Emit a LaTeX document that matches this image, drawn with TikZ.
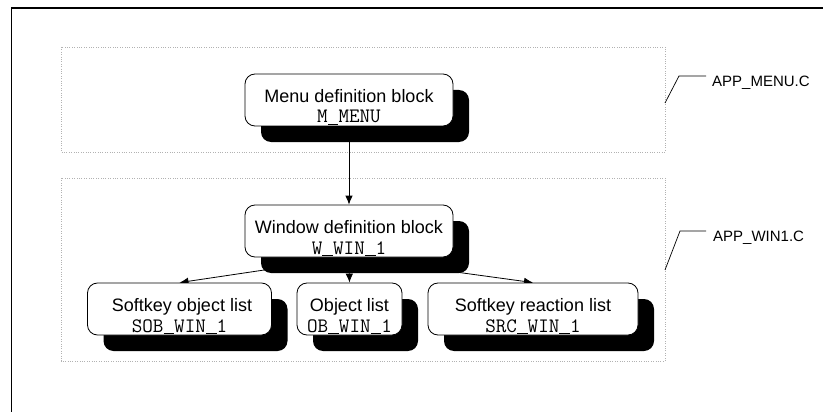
\documentclass[tikz,border=0pt]{standalone}
\usepackage{fontspec}
\setmainfont{Liberation Sans}
\usetikzlibrary{arrows.meta,shadows}
\pgfdeclarelayer{background}
\pgfsetlayers{background,main}

% underscore drawn as a rule, one typewriter cell wide
\newcommand\codeus{\makebox[0.525em][c]{\rule[-0.09em]{0.52em}{0.055em}}}

\tikzset{
  filebox/.style={draw=gray!60, line width=0.6pt, dash pattern=on 0.8pt off 1.6pt},
  blockbox/.style={draw=black, line width=0.8pt, fill=white, rounded corners=10pt,
    minimum height=52pt, inner sep=0pt,
    drop shadow={shadow xshift=16pt, shadow yshift=-16pt, fill=black, opacity=1}},
  title/.style={anchor=base, inner sep=0pt, font=\fontsize{18}{21}\selectfont},
  code/.style={anchor=base, inner sep=0pt, font=\fontsize{20.5}{22}\selectfont\ttfamily},
  flow/.style={line width=0.8pt, -{Latex[length=9pt,width=7.5pt]}},
  leader/.style={line width=0.7pt},
  filename/.style={anchor=base west, inner sep=0pt, font=\fontsize{15}{18}\selectfont}
}

\begin{document}
\begin{tikzpicture}[x=1pt,y=-1pt]
\useasboundingbox (0,0) rectangle (823,412);

% page frame
\draw[line width=1.8pt] (11.5,413) -- (11.5,8) -- (824,8);

% source file boundaries
\draw[filebox] (61,47) rectangle (665,152);
\draw[filebox] (61,178) rectangle (665,361);

% blocks
\node[blockbox, minimum width=208pt] (menu) at (349,100) {};
\node[title] (menu-title) at (349,102.3) {Menu definition block};
\node[code]  (menu-code)  at (349,123) {M\codeus MENU};

\node[blockbox, minimum width=208pt] (win) at (349,231) {};
\node[title] (win-title) at (349,233.3) {Window definition block};
\node[code]  (win-code)  at (349,254) {W\codeus WIN\codeus 1};

\node[blockbox, minimum width=184pt] (sob) at (179.5,309) {};
\node[title] (sob-title) at (182,311.3) {Softkey object list};
\node[code]  (sob-code)  at (179.5,332) {SOB\codeus WIN\codeus 1};

\node[blockbox, minimum width=105pt] (ob) at (349.5,309) {};
\node[title] (ob-title) at (349.5,311.3) {Object list};
\node[code]  (ob-code)  at (349.5,332) {OB\codeus WIN\codeus 1};

\node[blockbox, minimum width=210pt] (src) at (533,309) {};
\node[title] (src-title) at (533,311.3) {Softkey reaction list};
\node[code]  (src-code)  at (533,332) {SRC\codeus WIN\codeus 1};

% connections, kept behind the blocks and their shadows
\begin{pgfonlayer}{background}
  \draw[flow] (menu.south) -- (win.north);
  \draw[flow] (win.south) -- (sob.north);
  \draw[flow] (win.south) -- (ob.north);
  \draw[flow] (win.south) -- (src.north);
\end{pgfonlayer}

% file name callouts
\coordinate (menu-tick) at (665,103);
\node[filename] (menu-file) at (712,86.7) {APP\_MENU.C};
\draw[leader] (menu-tick) -- (679,76) -- (706,76);

\coordinate (win-tick) at (665,270);
\node[filename] (win-file) at (713,241.5) {APP\_WIN1.C};
\draw[leader] (win-tick) -- (680,231) -- (706,231);
\end{tikzpicture}
\end{document}
